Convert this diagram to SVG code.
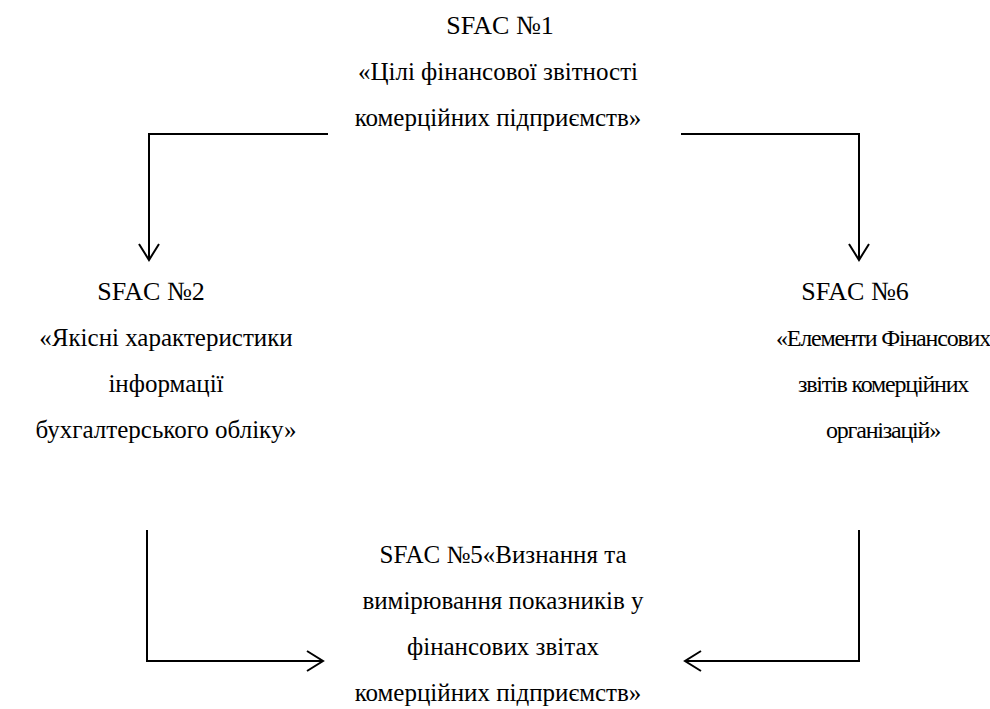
<svg xmlns="http://www.w3.org/2000/svg" width="990" height="709" viewBox="0 0 990 709">
<style>
.t text{font-size:25px;fill:#000;text-anchor:middle}
.t text.h{font-size:26px}
.t text.s{font-size:24px;letter-spacing:-1.2px}
.c{fill:none;stroke:#000;stroke-width:2}
</style>
<rect width="990" height="709" fill="#fff"/>
<g class="t" font-family="'Liberation Serif', 'Times New Roman', serif">
<g id="n1">
<text class="h" x="500" y="34">SFAC №1</text>
<text x="498" y="80">«Цілі фінансової звітності</text>
<text x="498" y="126">комерційних підприємств»</text>
</g>
<g id="n2">
<text class="h" x="151" y="300">SFAC №2</text>
<text x="166" y="346">«Якісні характеристики</text>
<text x="166" y="392">інформації</text>
<text x="166" y="438">бухгалтерського обліку»</text>
</g>
<g id="n6">
<text class="h" x="855" y="300">SFAC №6</text>
<text class="s" x="883" y="346">«Елементи Фінансових</text>
<text class="s" x="883" y="392">звітів комерційних</text>
<text class="s" x="883" y="438">організацій»</text>
</g>
<g id="n5">
<text x="503" y="563">SFAC №5«Визнання та</text>
<text x="503" y="609">вимірювання показників у</text>
<text x="503" y="655">фінансових звітах</text>
<text x="498" y="701">комерційних підприємств»</text>
</g>
</g>
<g id="connectors">
<path class="c" d="M328 134H149V260M139 244L149 260L159 244"/>
<path class="c" d="M681 134H859V260M849 244L859 260L869 244"/>
<path class="c" d="M147 530V661H323M307 651L323 661L307 671"/>
<path class="c" d="M859 530V661H685M701 651L685 661L701 671"/>
</g>
</svg>
